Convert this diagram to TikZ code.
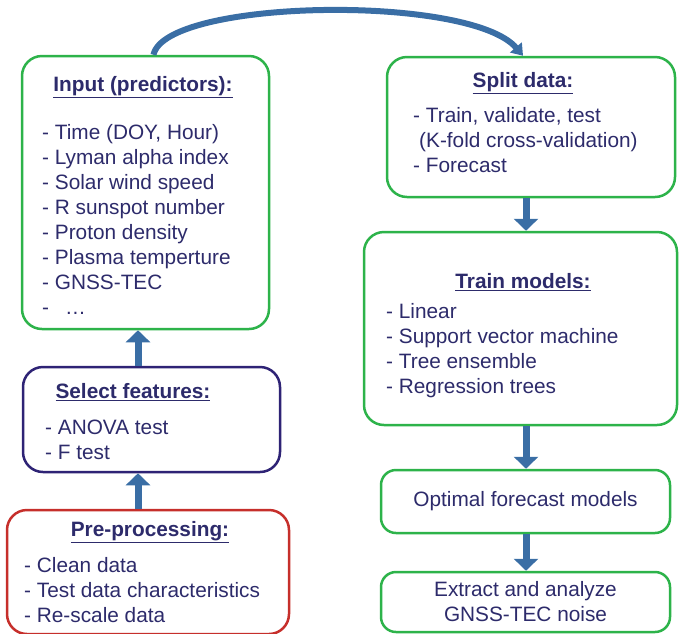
\documentclass[tikz,border=0pt]{standalone}
\usepackage{fontspec}
\setmainfont{Liberation Sans}
\usepackage{tikz}
\usetikzlibrary{arrows.meta}

\definecolor{txtnavy}{HTML}{2D2B6B}
\definecolor{boxgreen}{HTML}{2DB34A}
\definecolor{boxred}{HTML}{C62F2B}
\definecolor{boxindigo}{HTML}{2E2375}
\definecolor{arrowblue}{HTML}{3A6EA5}

\tikzset{
	box/.style={draw, line width=2.5pt, rounded corners=20pt, fill=white, inner sep=0pt, text=txtnavy},
	title/.style={font=\fontsize{20.8}{25}\selectfont\bfseries, text=txtnavy},
	items/.style={align=left, text=txtnavy, inner sep=0pt, anchor=west},
	blockarrow/.style={arrowblue, line width=7pt, -{Triangle[width=24pt,length=12pt]}},
	curvearrow/.style={arrowblue, line width=6pt, -{Triangle[width=15pt,length=11pt]}}
}

\begin{document}
\begin{tikzpicture}[x=1pt,y=-1pt,font=\fontsize{20.8}{25}\selectfont]
	\useasboundingbox (0,0) rectangle (679,633);

	% colonne de gauche
	\node[box, draw=boxgreen, minimum width=247pt, minimum height=273pt] (inp) at (145.5,192.5) {};
	\node[title] (inptitle) at (143,87) {\underline{Input (predictors):}};
	\node[items] (inplist) at (42,219.5) {- Time (DOY, Hour)\\- Lyman alpha index\\- Solar wind speed\\- R sunspot number\\- Proton density\\- Plasma temperture\\- GNSS-TEC\\-\hspace{16pt}…};

	\node[box, draw=boxindigo, minimum width=257pt, minimum height=105pt] (sel) at (151.5,419.5) {};
	\node[title] (seltitle) at (133,392) {\underline{Select features:}};
	\node[items] (sellist) at (45,439.5) {- ANOVA test\\- F test};

	\node[box, draw=boxred, minimum width=282pt, minimum height=124pt] (pre) at (148,572) {};
	\node[title] (pretitle) at (150,532) {\underline{Pre-processing:}};
	\node[items] (prelist) at (24,590) {- Clean data\\- Test data characteristics\\- Re-scale data};

	% colonne de droite
	\node[box, draw=boxgreen, minimum width=288pt, minimum height=140pt] (sp) at (531,127) {};
	\node[title] (sptitle) at (523,83) {\underline{Split data:}};
	\node[items] (splist) at (413,140) {- Train, validate, test\\\hspace{6pt}(K-fold cross-validation)\\- Forecast};

	\node[box, draw=boxgreen, minimum width=313pt, minimum height=193pt] (tr) at (520.5,328.5) {};
	\node[title] (trtitle) at (523,282) {\underline{Train models:}};
	\node[items] (trlist) at (386,350.5) {- Linear\\- Support vector machine\\- Tree ensemble\\- Regression trees};

	\node[box, draw=boxgreen, rounded corners=15pt, minimum width=289pt, minimum height=63pt] (opt) at (525.5,501.5) {Optimal forecast models};
	\node[box, draw=boxgreen, rounded corners=15pt, minimum width=289pt, minimum height=60pt, align=center] (ext) at (525.5,602) {Extract and analyze\\GNSS-TEC noise};

	% fleches
	\coordinate (lcol) at (138,0);
	\coordinate (rcol) at (526,0);
	\draw[blockarrow] (pre.north -| lcol) -- (sel.south -| lcol);
	\draw[blockarrow] (sel.north -| lcol) -- (inp.south -| lcol);
	\draw[blockarrow] (sp.south -| rcol) -- (tr.north -| rcol);
	\draw[blockarrow] (tr.south -| rcol) -- (opt.north -| rcol);
	\draw[blockarrow] (opt.south -| rcol) -- (ext.north -| rcol);

	\draw[curvearrow] ([xshift=8pt]inp.north) .. controls +(12,-56) and +(-53,-62) .. ([xshift=-8pt]sp.north);
\end{tikzpicture}
\end{document}
